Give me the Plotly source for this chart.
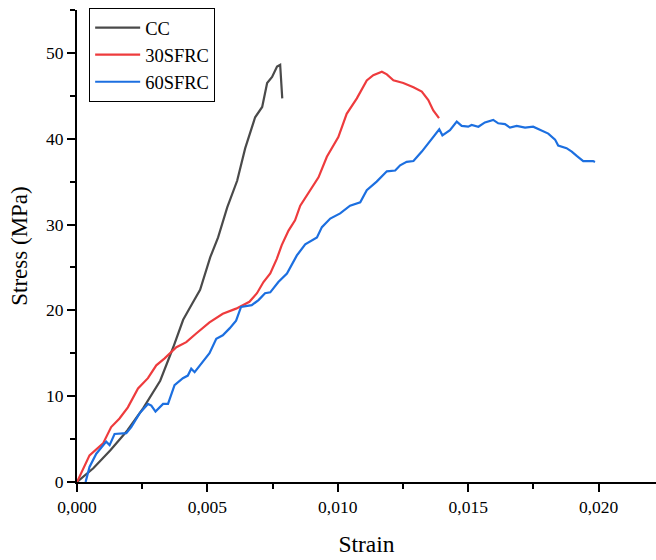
import plotly.graph_objects as go

cc_strain = [0.0, 0.000625, 0.00128, 0.00193, 0.00254, 0.00319, 0.00369, 0.00407, 0.00442, 0.00472,
             0.00511, 0.00541, 0.00576, 0.00614, 0.00645, 0.00683, 0.00710, 0.00729, 0.00748, 0.00767,
             0.00779, 0.00787]
cc_stress = [0.0, 1.6, 3.7, 6.0, 8.6, 11.8, 15.7, 18.9, 20.8, 22.4,
             26.2, 28.5, 32.0, 35.1, 38.9, 42.5, 43.7, 46.5, 47.2, 48.4,
             48.6, 44.7]

s30_strain = [0.0, 0.00048, 0.00100, 0.00131, 0.00163, 0.00195, 0.00234, 0.00272, 0.00304, 0.00336,
              0.00381, 0.00419, 0.00457, 0.00508, 0.00559, 0.00610, 0.00661, 0.00690, 0.00715, 0.00741,
              0.00766, 0.00785, 0.00811, 0.00836, 0.00856, 0.00894, 0.00926, 0.00958, 0.01002, 0.01034,
              0.01073, 0.01111, 0.01136, 0.01169, 0.01188, 0.01213, 0.01251, 0.01290, 0.01322, 0.01347,
              0.01366, 0.01388]
s30_stress = [0.0, 3.1, 4.5, 6.4, 7.4, 8.7, 10.9, 12.1, 13.6, 14.4,
              15.7, 16.3, 17.3, 18.6, 19.6, 20.2, 21.0, 22.0, 23.3, 24.3,
              26.0, 27.6, 29.3, 30.5, 32.2, 34.0, 35.5, 37.9, 40.2, 42.9,
              44.7, 46.8, 47.4, 47.8, 47.5, 46.8, 46.5, 46.0, 45.5, 44.5,
              43.3, 42.4]

s60_strain = [0.00033, 0.00048, 0.00074, 0.00112, 0.00125, 0.00144, 0.00189, 0.00208, 0.00240, 0.00272,
              0.00285, 0.00301, 0.00330, 0.00349, 0.00374, 0.00406, 0.00425, 0.00438, 0.00451, 0.00476,
              0.00508, 0.00534, 0.00559, 0.00585, 0.00610, 0.00629, 0.00670, 0.00696, 0.00721, 0.00741,
              0.00772, 0.00805, 0.00843, 0.00875, 0.00920, 0.00939, 0.00971, 0.01009, 0.01047, 0.01086,
              0.01111, 0.01149, 0.01188, 0.01220, 0.01239, 0.01264, 0.01290, 0.01322, 0.01354, 0.01389,
              0.01401, 0.01430, 0.01456, 0.01475, 0.01500, 0.01513, 0.01539, 0.01564, 0.01596, 0.01615,
              0.01641, 0.01660, 0.01686, 0.01718, 0.01749, 0.01775, 0.01807, 0.01833, 0.01845, 0.01877,
              0.01897, 0.01916, 0.01941, 0.01979, 0.01986]
s60_stress = [0.0, 1.75, 3.3, 4.7, 4.3, 5.6, 5.7, 6.4, 8.0, 9.1,
              8.9, 8.2, 9.1, 9.1, 11.3, 12.1, 12.4, 13.2, 12.8, 13.8,
              15.0, 16.7, 17.1, 17.9, 18.8, 20.4, 20.6, 21.2, 22.0, 22.1,
              23.3, 24.3, 26.4, 27.7, 28.5, 29.7, 30.7, 31.3, 32.2, 32.6,
              34.0, 35.0, 36.2, 36.3, 36.9, 37.3, 37.4, 38.5, 39.8, 41.1,
              40.4, 41.0, 42.0, 41.5, 41.4, 41.6, 41.4, 41.9, 42.2, 41.8,
              41.7, 41.3, 41.5, 41.3, 41.4, 41.0, 40.6, 39.9, 39.2, 38.9,
              38.5, 38.0, 37.4, 37.4, 37.3]

font = "Liberation Serif, Times New Roman, serif"

fig = go.Figure()
fig.add_trace(go.Scatter(x=cc_strain, y=cc_stress, mode="lines", name="CC",
                         line=dict(color="#4a4a4a", width=2.2)))
fig.add_trace(go.Scatter(x=s30_strain, y=s30_stress, mode="lines", name="30SFRC",
                         line=dict(color="#ee3b3d", width=2.2)))
fig.add_trace(go.Scatter(x=s60_strain, y=s60_stress, mode="lines", name="60SFRC",
                         line=dict(color="#1c6fe0", width=2.2)))

fig.update_layout(
    width=656, height=560,
    margin=dict(l=77, r=0, t=10, b=78),
    paper_bgcolor="white", plot_bgcolor="white",
    separators=",.",
    font=dict(family=font, size=17, color="black"),
    showlegend=True,
    legend=dict(x=0.021, y=1.004, xanchor="left", yanchor="top",
                bordercolor="black", borderwidth=1, bgcolor="white",
                font=dict(family=font, size=18.5, color="black"),
                tracegroupgap=0, itemwidth=45),
)
fig.update_xaxes(
    range=[0, 0.0222], showgrid=False, zeroline=False,
    showline=True, linecolor="black", linewidth=2,
    ticks="outside", ticklen=8, tickwidth=2, tickcolor="black",
    tick0=0, dtick=0.005, tickformat=".3f",
    minor=dict(ticks="outside", ticklen=5, tickwidth=2, tickcolor="black", dtick=0.0025),
    title=dict(text="Strain", font=dict(family=font, size=23.5), standoff=20),
    tickfont=dict(family=font, size=17.5),
)
fig.update_yaxes(
    range=[0, 55], showgrid=False, zeroline=False,
    showline=True, linecolor="black", linewidth=2,
    ticks="outside", ticklen=8, tickwidth=2, tickcolor="black",
    tick0=0, dtick=10,
    minor=dict(ticks="outside", ticklen=5, tickwidth=2, tickcolor="black", dtick=5),
    title=dict(text="Stress (MPa)", font=dict(family=font, size=23), standoff=12),
    tickfont=dict(family=font, size=17.5),
)

fig.write_html("out.html")
